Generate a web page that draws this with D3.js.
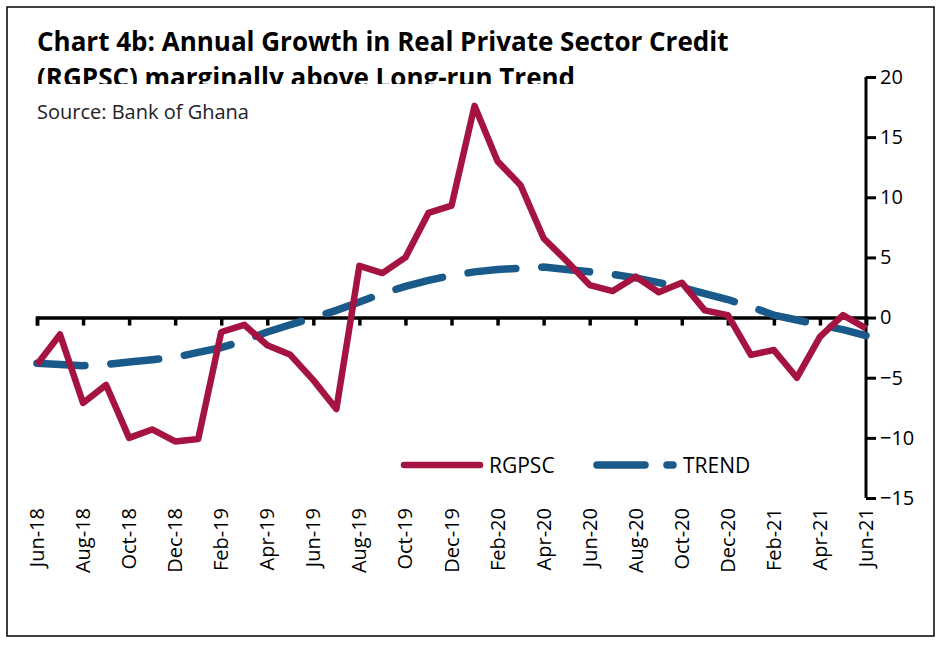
<!DOCTYPE html><html><head><meta charset="utf-8"><script src="https://cdn.jsdelivr.net/npm/d3@7"></script>
<style>body{margin:0;background:#fff}text{font-family:"Open Sans","Noto Sans",sans-serif}</style></head><body><svg id="c" width="947" height="649"></svg><script>
const months=["Jun-18","Jul-18","Aug-18","Sep-18","Oct-18","Nov-18","Dec-18","Jan-19","Feb-19","Mar-19","Apr-19","May-19","Jun-19","Jul-19","Aug-19","Sep-19","Oct-19","Nov-19","Dec-19","Jan-20","Feb-20","Mar-20","Apr-20","May-20","Jun-20","Jul-20","Aug-20","Sep-20","Oct-20","Nov-20","Dec-20","Jan-21","Feb-21","Mar-21","Apr-21","May-21","Jun-21"];
const rgpsc=[-3.9,-1.4,-7.1,-5.6,-10.0,-9.3,-10.3,-10.1,-1.2,-0.6,-2.3,-3.1,-5.2,-7.6,4.3,3.7,5.0,8.7,9.3,17.6,13.0,11.0,6.6,4.7,2.7,2.2,3.4,2.1,2.9,0.6,0.2,-3.1,-2.7,-5.0,-1.6,0.2,-0.9];
const trend=[-3.8,-3.9,-4.0,-3.9,-3.7,-3.5,-3.3,-2.9,-2.5,-1.9,-1.2,-0.6,0.0,0.6,1.3,2.0,2.6,3.1,3.5,3.8,4.0,4.1,4.2,4.0,3.8,3.6,3.3,2.9,2.5,2.0,1.5,0.9,0.2,-0.2,-0.6,-1.0,-1.5];
const yTicks=[20,15,10,5,0,-5,-10,-15];
const svg=d3.select("#c");
svg.append("rect").attr("x",7).attr("y",7).attr("width",927).attr("height",629).attr("fill","none").attr("stroke","#000").attr("stroke-width",1.5);
const x=d3.scalePoint().domain(months).range([37,866]);
const y=d3.scaleLinear().domain([-15,20]).range([498,77]);
const xa=svg.append("g").attr("transform",`translate(0,${y(0)})`).call(d3.axisBottom(x).tickValues(months.filter((d,i)=>i%2==0)).tickSize(8).tickFormat(""));
xa.select(".domain").attr("stroke-width",3.5);xa.selectAll("line").attr("stroke-width",3.5);
svg.append("g").selectAll("text").data(months.filter((d,i)=>i%2==0)).join("text")
 .attr("transform",d=>`translate(${x(d)+7},508) rotate(-90)`).attr("text-anchor","end").attr("font-size",20).text(d=>d);
const ya=svg.append("g").attr("transform","translate(866,0)").call(d3.axisRight(y).tickValues(yTicks).tickSize(10).tickPadding(4));
ya.select(".domain").attr("stroke-width",3).attr("d",`M0,${y(20)}V${y(-15)}`);ya.selectAll("line").attr("stroke-width",3);
ya.selectAll("text").attr("font-size",20).attr("fill","#000");
const line=d3.line().x((d,i)=>x(months[i])).y(d=>y(d));
svg.append("path").datum(trend).attr("d",line).attr("fill","none").attr("stroke","#1a5a8a").attr("stroke-width",7.5).attr("stroke-linecap","round").attr("stroke-dasharray","48,26");
svg.append("path").datum(rgpsc).attr("d",line).attr("fill","none").attr("stroke","#a51441").attr("stroke-width",6.5).attr("stroke-linejoin","round");
const lg=svg.append("g");
lg.append("line").attr("x1",404).attr("x2",480).attr("y1",465).attr("y2",465).attr("stroke","#a51441").attr("stroke-width",6.5).attr("stroke-linecap","round");
lg.append("text").attr("x",489).attr("y",473).attr("font-size",21).text("RGPSC");
lg.append("line").attr("x1",597).attr("x2",673).attr("y1",465).attr("y2",465).attr("stroke","#1a5a8a").attr("stroke-width",7.5).attr("stroke-linecap","round").attr("stroke-dasharray","48,22");
lg.append("text").attr("x",683).attr("y",473).attr("font-size",21).text("TREND");
svg.append("clipPath").attr("id","tc").append("rect").attr("x",0).attr("y",0).attr("width",947).attr("height",84);
const t=svg.append("text").attr("clip-path","url(#tc)").attr("font-size",26).attr("font-weight","bold").attr("fill","#000");
t.append("tspan").attr("x",37).attr("y",51).text("Chart 4b: Annual Growth in Real Private Sector Credit");
t.append("tspan").attr("x",37).attr("y",87).text("(RGPSC) marginally above Long-run Trend");
svg.append("text").attr("x",37).attr("y",119).attr("font-size",20).attr("fill","#222").text("Source: Bank of Ghana");
</script></body></html>
